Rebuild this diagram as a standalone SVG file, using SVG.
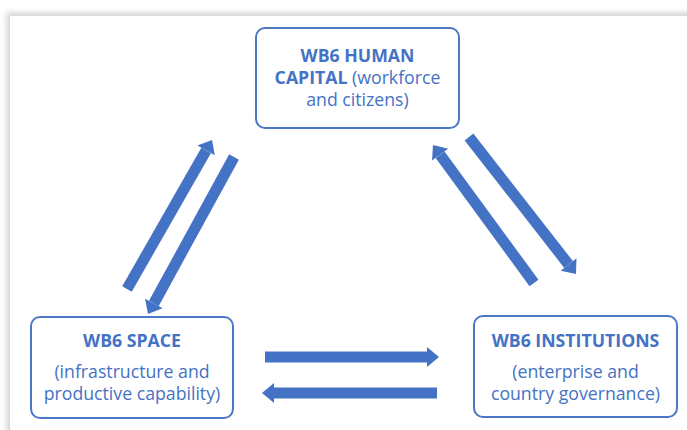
<svg xmlns="http://www.w3.org/2000/svg" width="687" height="430" viewBox="0 0 687 430">
  <defs>
    <style>
      .box { fill: #ffffff; stroke: #4a77c6; stroke-width: 2; }
      .lbl { font-family: "Open Sans", "Noto Sans", sans-serif; font-size: 17.7px; fill: #4472c4; text-anchor: middle; }
      .b { font-weight: 700; }
      .arrow { stroke: #4472c4; stroke-width: 11; fill: none; marker-end: url(#head); }
    </style>
    <marker id="head" markerUnits="userSpaceOnUse" markerWidth="14" markerHeight="22" refX="0" refY="10" orient="auto" overflow="visible">
      <path d="M0,0 L12,10 L0,20 Z" fill="#4472c4"/>
    </marker>
    <filter id="shadow" x="-5%" y="-5%" width="110%" height="110%">
      <feGaussianBlur stdDeviation="3"/>
    </filter>
  </defs>

  <!-- page panel with soft edge shadow -->
  <rect x="0" y="0" width="687" height="430" fill="#ffffff"/>
  <rect x="7" y="13" width="700" height="440" fill="#cfcfcf" filter="url(#shadow)"/>
  <rect x="10" y="16" width="700" height="440" fill="#ffffff"/>

  <g id="connectors">
    <!-- space <-> human capital -->
    <line class="arrow" x1="127" y1="289" x2="206.1" y2="150.4"/>
    <line class="arrow" x1="234" y1="157" x2="153.8" y2="303.5"/>
    <!-- human capital <-> institutions -->
    <line class="arrow" x1="534" y1="283" x2="440.1" y2="154.7"/>
    <line class="arrow" x1="469" y1="137" x2="568.6" y2="264.5"/>
    <!-- space <-> institutions -->
    <line class="arrow" x1="265" y1="357" x2="427" y2="357"/>
    <line class="arrow" x1="437" y1="393" x2="274" y2="393"/>
  </g>

  <g id="human-capital">
    <rect class="box" x="256" y="28" width="203" height="100" rx="9"/>
    <text class="lbl b" x="357.5" y="62">WB6 HUMAN</text>
    <text class="lbl" x="357.5" y="84"><tspan class="b">CAPITAL</tspan> (workforce</text>
    <text class="lbl" x="357.5" y="106">and citizens)</text>
  </g>

  <g id="space">
    <rect class="box" x="31" y="317" width="202" height="101" rx="9"/>
    <text class="lbl b" x="132" y="347">WB6 SPACE</text>
    <text class="lbl" x="132" y="378">(infrastructure and</text>
    <text class="lbl" x="132" y="400">productive capability)</text>
  </g>

  <g id="institutions">
    <rect class="box" x="474" y="316" width="203" height="101" rx="9"/>
    <text class="lbl b" x="575.5" y="347">WB6 INSTITUTIONS</text>
    <text class="lbl" x="575.5" y="378">(enterprise and</text>
    <text class="lbl" x="575.5" y="400">country governance)</text>
  </g>
</svg>
